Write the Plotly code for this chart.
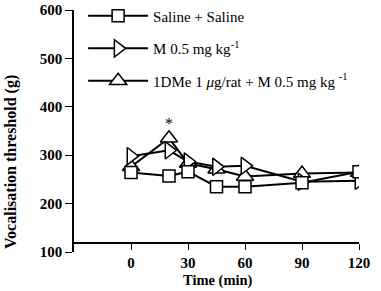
import plotly.graph_objects as go

time_min = [0, 20, 30, 45, 60, 90, 120]
saline = [264, 257, 266, 235, 235, 243, 266]
morphine = [298, 310, 287, 276, 278, 245, 247]
dme_morphine = [276, 335, 283, 271, 256, 262, 264]

x_ticks = [0, 30, 60, 90, 120]
y_ticks = [100, 200, 300, 400, 500, 600]

names = ["Saline + Saline",
         "M 0.5 mg kg<sup>-1</sup>",
         "1DMe 1 <i>μ</i>g/rat + M 0.5 mg kg <sup>-1</sup>"]
symbols = ["square", "triangle-right", "triangle-up"]
sizes = [12, 15, 15]
series = [saline, morphine, dme_morphine]

fig = go.Figure()
for i in [2, 1, 0]:
    fig.add_trace(go.Scatter(
        x=time_min, y=series[i], name=names[i], mode="lines+markers",
        line=dict(color="black", width=2),
        marker=dict(symbol=symbols[i], size=sizes[i], color="white",
                    line=dict(color="black", width=1.5)),
        legendgroup=str(i), legendrank=i,
    ))

fig.add_annotation(x=20, y=366, text="*", showarrow=False,
                   font=dict(size=16, color="black", family="Liberation Serif"))
fig.add_annotation(xref="paper", yref="paper", x=-0.221, y=0.372,
                   text="<b>Vocalisation threshold (g)</b>", textangle=-90,
                   showarrow=False, xanchor="center", yanchor="middle",
                   font=dict(size=16, family="Liberation Serif", color="black"))
fig.add_annotation(xref="paper", yref="paper", x=0.505, y=-0.116,
                   text="<b>Time (min)</b>", showarrow=False,
                   xanchor="center", yanchor="middle",
                   font=dict(size=14.5, family="Liberation Serif", color="black"))

fig.update_layout(
    width=381, height=291,
    margin=dict(l=74, r=22, t=10, b=39, autoexpand=False),
    paper_bgcolor="white", plot_bgcolor="white",
    font=dict(family="Liberation Serif", color="black"),
    showlegend=True,
    legend=dict(x=0.032, y=1.043, xanchor="left", yanchor="top",
                font=dict(size=15, family="Liberation Serif"),
                tracegroupgap=10, bgcolor="rgba(0,0,0,0)",
                traceorder="grouped", itemwidth=60),
    xaxis=dict(range=[-30, 120], tickvals=x_ticks,
               ticktext=[f"<b>{v}</b>" for v in x_ticks],
               showline=True, linecolor="black", linewidth=1.5,
               ticks="outside", ticklen=6, tickcolor="black",
               showgrid=False, zeroline=False,
               anchor="free", position=0.036,
               tickfont=dict(size=15, family="Liberation Serif")),
    yaxis=dict(range=[100, 600], tickvals=y_ticks,
               ticktext=[f"<b>{v}</b>" for v in y_ticks],
               showline=True, linecolor="black", linewidth=1.5,
               ticks="outside", ticklen=7, tickcolor="black",
               showgrid=False, zeroline=False,
               tickfont=dict(size=15, family="Liberation Serif")),
)

fig.write_html("out.html", config={"displayModeBar": False},
               post_script="document.body.style.margin='0';")
